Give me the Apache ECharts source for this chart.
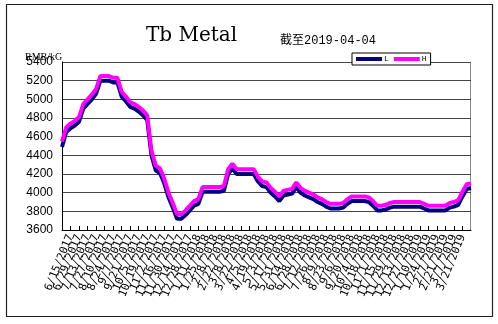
<html>
<head>
    <meta http-equiv="Content-Type" content="text/html; charset=utf-8" />
</head>
<script type="text/javascript" src="https://cdn.jsdelivr.net/npm/echarts@6/dist/echarts.min.js"></script>
<body style="margin:0;background:#fff">
<div id="main" style="width: 498px;height:324px;"></div>
</body>
<script type="text/javascript">
    // weekly dates, 6/1/2017 .. 4/4/2019
    var dates = [
        '6/1/2017','6/8/2017','6/15/2017','6/22/2017','6/29/2017','7/6/2017','7/13/2017','7/20/2017','7/27/2017',
        '8/3/2017','8/10/2017','8/17/2017','8/24/2017','8/31/2017','9/7/2017','9/14/2017','9/21/2017','9/28/2017',
        '10/5/2017','10/12/2017','10/19/2017','10/26/2017','11/2/2017','11/9/2017','11/16/2017','11/23/2017',
        '11/30/2017','12/7/2017','12/14/2017','12/21/2017','12/28/2017',
        '1/4/2018','1/11/2018','1/18/2018','1/25/2018','2/1/2018','2/8/2018','2/15/2018','2/22/2018','3/1/2018',
        '3/8/2018','3/15/2018','3/22/2018','3/29/2018','4/5/2018','4/12/2018','4/19/2018','4/26/2018','5/3/2018',
        '5/10/2018','5/17/2018','5/24/2018','5/31/2018','6/7/2018','6/14/2018','6/21/2018','6/28/2018','7/5/2018',
        '7/12/2018','7/19/2018','7/26/2018','8/2/2018','8/9/2018','8/16/2018','8/23/2018','8/30/2018','9/6/2018',
        '9/13/2018','9/20/2018','9/27/2018','10/4/2018','10/11/2018','10/18/2018','10/25/2018','11/1/2018',
        '11/8/2018','11/15/2018','11/22/2018','11/29/2018','12/6/2018','12/13/2018','12/20/2018','12/27/2018',
        '1/3/2019','1/10/2019','1/17/2019','1/24/2019','1/31/2019','2/7/2019','2/14/2019','2/21/2019','2/28/2019',
        '3/7/2019','3/14/2019','3/21/2019','3/28/2019','4/4/2019'
    ];

    // L (low) price
    var lowPrice = [
        4490, 4650, 4690, 4720, 4760, 4900, 4950, 5000, 5060, 5200,
        5200, 5200, 5180, 5180, 5030, 4980, 4920, 4900, 4870, 4830,
        4780, 4400, 4240, 4210, 4100, 3950, 3840, 3720, 3720, 3760,
        3810, 3860, 3880, 4010, 4010, 4010, 4010, 4010, 4020, 4200,
        4260, 4200, 4200, 4200, 4200, 4200, 4120, 4070, 4060, 4000,
        3960, 3910, 3970, 3980, 3990, 4060, 4000, 3970, 3950, 3930,
        3900, 3880, 3850, 3830, 3830, 3830, 3840, 3880, 3910, 3910,
        3910, 3910, 3900, 3860, 3810, 3810, 3820, 3840, 3850, 3850,
        3850, 3850, 3850, 3850, 3850, 3830, 3810, 3810, 3810, 3810,
        3810, 3840, 3850, 3870, 3960, 4040, 4050
    ];

    // H (high) price
    var highPrice = [
        4550, 4700, 4740, 4770, 4810, 4950, 5000, 5050, 5110, 5250,
        5250, 5250, 5230, 5230, 5080, 5030, 4970, 4950, 4920, 4880,
        4830, 4450, 4290, 4260, 4150, 4000, 3890, 3770, 3770, 3810,
        3860, 3910, 3930, 4060, 4060, 4060, 4060, 4060, 4070, 4250,
        4310, 4250, 4250, 4250, 4250, 4250, 4170, 4120, 4110, 4050,
        4010, 3960, 4020, 4030, 4040, 4110, 4050, 4020, 4000, 3980,
        3950, 3930, 3900, 3880, 3880, 3880, 3890, 3930, 3960, 3960,
        3960, 3960, 3950, 3910, 3860, 3860, 3870, 3890, 3900, 3900,
        3900, 3900, 3900, 3900, 3900, 3880, 3860, 3860, 3860, 3860,
        3860, 3890, 3900, 3920, 4010, 4090, 4100
    ];

    var yTicks = [3600, 5400, 200]; // min, max, step

    var myChart = echarts.init(document.getElementById('main'));

    option = {
        animation: false,
        backgroundColor: '#fff',
        title: [{
            text: 'Tb Metal',
            left: 141, top: 21,
            textStyle: {fontFamily: 'DejaVu Serif', fontSize: 20, fontWeight: 'normal', color: '#000'}
        }, {
            text: '截至2019-04-04',
            left: 275, top: 30,
            textStyle: {fontFamily: "'Liberation Mono','Noto Sans CJK SC'", fontSize: 12, fontWeight: 'normal', color: '#000'}
        }],
        graphic: [{
            type: 'rect',
            shape: {x: 6.5, y: 4.5, width: 486, height: 312},
            style: {fill: 'none', stroke: '#222', lineWidth: 1.2}
        }, {
            type: 'rect',
            shape: {x: 62.5, y: 62.5, width: 408, height: 168},
            style: {fill: 'none', stroke: '#888', lineWidth: 1},
            z: 0
        }, {
            type: 'text',
            left: 25, top: 52,
            style: {text: 'RMB/kG', font: '10px "Liberation Serif"', fill: '#000'}
        }],
        legend: {
            data: ['L', 'H'],
            left: 352, top: 53,
            icon: 'rect',
            itemWidth: 26, itemHeight: 4,
            itemGap: 5,
            padding: [2, 4],
            borderColor: '#000', borderWidth: 1,
            backgroundColor: '#fff',
            textStyle: {fontSize: 8, fontFamily: 'Liberation Mono', color: '#000', padding: [0, 0, 0, -3]}
        },
        grid: {left: 62, top: 62, right: 27, bottom: 94, containLabel: false},
        xAxis: {
            type: 'category',
            data: dates,
            boundaryGap: false,
            axisLine: {lineStyle: {color: '#000', width: 1}},
            axisTick: {inside: true, length: 4, interval: 1, lineStyle: {color: '#000'}},
            axisLabel: {interval: 1, rotate: 68, fontSize: 11, fontFamily: 'DejaVu Sans Mono', color: '#000', margin: 5, hideOverlap: false},
            splitLine: {show: false}
        },
        yAxis: {
            type: 'value',
            min: yTicks[0], max: yTicks[1], interval: yTicks[2],
            axisLine: {show: true, lineStyle: {color: '#000', width: 1}},
            axisTick: {show: false},
            axisLabel: {fontSize: 12, fontFamily: 'Liberation Sans', color: '#000', margin: 9,
                formatter: function (v) { return String(v); }},
            splitLine: {lineStyle: {color: '#444', width: 1}}
        },
        series: [{
            name: 'L', type: 'line', data: lowPrice,
            showSymbol: false, lineStyle: {color: '#000080', width: 4}, itemStyle: {color: '#000080'}, z: 3
        }, {
            name: 'H', type: 'line', data: highPrice,
            showSymbol: false, lineStyle: {color: '#ff00ff', width: 4}, itemStyle: {color: '#ff00ff'}, z: 4
        }]
    };

    myChart.setOption(option);
</script>
</html>
